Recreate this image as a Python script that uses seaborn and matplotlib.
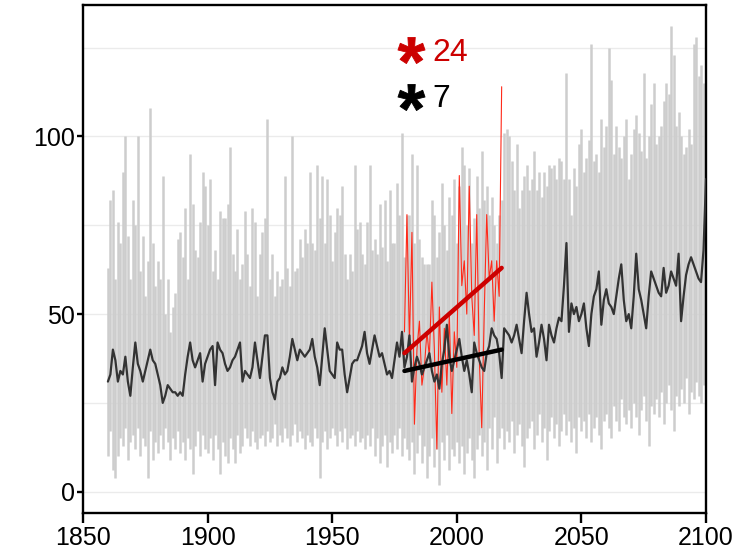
import numpy as np
import pandas as pd
import matplotlib
matplotlib.use("Agg")
import matplotlib.pyplot as plt
import seaborn as sns

# ---------------------------------------------------------------------------
# Data
# ---------------------------------------------------------------------------
YEARS = list(range(1860, 2101))

# ensemble mean, one value per year 1860-2100 (one decade per row)
ENS_MEAN = [
    31, 33, 40, 37, 31, 34, 33, 38, 31, 27,
    35, 42, 36, 34, 31, 34, 37, 40, 37, 36,
    33, 30, 25, 27, 30, 29, 28, 28, 27, 28,
    27, 33, 38, 42, 37, 35, 37, 39, 31, 36,
    38, 40, 41, 30, 42, 40, 39, 36, 34, 35,
    37, 38, 40, 42, 31, 34, 33, 32, 35, 42,
    37, 32, 38, 44, 44, 32, 28, 26, 31, 32,
    35, 33, 34, 38, 43, 40, 37, 40, 39, 38,
    39, 40, 43, 38, 35, 30, 38, 46, 40, 34,
    33, 32, 42, 40, 40, 33, 28, 32, 36, 37,
    37, 39, 41, 45, 39, 36, 40, 44, 41, 38,
    39, 36, 33, 34, 32, 37, 42, 38, 45, 35,
    38, 44, 31, 35, 38, 36, 33, 35, 37, 39,
    34, 31, 33, 29, 36, 40, 47, 38, 34, 37,
    40, 43, 38, 34, 37, 33, 28, 42, 39, 37,
    35, 34, 39, 41, 46, 44, 43, 39, 32, 46,
    45, 44, 42, 44, 47, 43, 39, 48, 56, 50,
    45, 46, 38, 42, 47, 43, 37, 47, 44, 42,
    46, 49, 48, 58, 70, 45, 53, 50, 52, 48,
    50, 53, 46, 41, 50, 55, 57, 62, 47, 54,
    57, 53, 52, 50, 55, 60, 64, 54, 48, 50,
    46, 55, 67, 57, 54, 50, 46, 55, 62, 60,
    58, 56, 55, 63, 56, 58, 62, 60, 58, 67,
    48, 55, 61, 64, 66, 64, 62, 60, 59, 68,
    88,
]

# ensemble maximum per year
ENS_MAX = [
    63, 82, 85, 60, 76, 70, 90, 100, 72, 60,
    82, 75, 100, 62, 72, 55, 65, 108, 70, 58,
    65, 60, 89, 50, 60, 45, 52, 56, 71, 73,
    66, 80, 60, 95, 81, 68, 66, 76, 90, 86,
    75, 88, 62, 68, 60, 79, 77, 77, 81, 97,
    67, 62, 74, 60, 64, 79, 67, 58, 80, 76,
    55, 67, 73, 77, 105, 60, 67, 55, 62, 58,
    60, 89, 63, 58, 100, 62, 63, 71, 66, 74,
    70, 90, 70, 68, 92, 77, 89, 70, 88, 78,
    65, 73, 80, 78, 86, 67, 60, 67, 62, 92,
    74, 76, 67, 64, 76, 92, 68, 71, 67, 81,
    69, 82, 65, 85, 70, 70, 87, 78, 101, 66,
    78, 78, 95, 70, 92, 71, 66, 64, 64, 64,
    82, 78, 66, 73, 87, 75, 68, 83, 78, 88,
    70, 86, 97, 92, 75, 91, 70, 77, 89, 80,
    96, 82, 86, 78, 83, 75, 70, 78, 82, 101,
    102, 100, 93, 85, 98, 80, 85, 89, 92, 85,
    88, 96, 85, 90, 83, 90, 86, 92, 91, 92,
    88, 94, 93, 88, 118, 88, 78, 91, 86, 98,
    102, 90, 94, 99, 126, 93, 95, 90, 105, 97,
    103, 125, 116, 95, 103, 97, 94, 100, 105, 88,
    95, 102, 106, 101, 96, 118, 94, 100, 109, 115,
    98, 100, 103, 110, 115, 112, 131, 123, 103, 107,
    100, 95, 97, 102, 98, 126, 128, 117, 120, 115,
    108,
]

# ensemble minimum per year
ENS_MIN = [
    10, 17, 6, 4, 10, 15, 13, 18, 9, 14,
    16, 12, 18, 10, 15, 13, 4, 17, 9, 14,
    11, 16, 12, 18, 14, 9, 15, 12, 17, 11,
    14, 9, 15, 12, 5, 13, 17, 10, 16, 12,
    11, 15, 9, 16, 12, 5, 14, 10, 8, 15,
    12, 8, 16, 11, 13, 18, 15, 13, 17, 14,
    12, 15, 16, 13, 17, 14, 15, 19, 13, 16,
    14, 18, 15, 13, 16, 19, 14, 17, 15, 12,
    16, 14, 13, 18, 15, 4, 14, 17, 12, 15,
    18, 16, 13, 17, 14, 18, 12, 15, 16, 13,
    17, 14, 15, 12, 16, 13, 18, 10, 15, 8,
    13, 16, 7, 14, 11, 16, 12, 18, 10, 15,
    12, 9, 14, 5, 11, 16, 8, 13, 4, 10,
    15, 7, 12, 2, 14, 9, 16, 6, 12, 10,
    14, 8, 13, 5, 11, 15, 9, 4, 12, 16,
    10, 14, 6, 18, 12, 21, 8, 15, 18, 12,
    17, 14, 20, 11, 16, 19, 13, 7, 15, 18,
    20, 12, 16, 22, 14, 18, 9, 17, 21, 15,
    19, 13, 17, 22, 16, 20, 14, 18, 11, 21,
    17, 20, 15, 22, 14, 18, 21, 16, 12, 20,
    22, 18, 15, 24, 20, 17, 26, 21, 19, 23,
    18, 25, 21, 16, 23, 27, 20, 13, 24, 22,
    26, 21, 28, 19, 25, 30, 23, 17, 27, 24,
    29, 25, 32, 22, 28, 26, 31, 27, 25, 30,
    28,
]

# observations 1979-2018
OBS_YEARS = list(range(1979, 2019))
OBS = [
    45, 78, 42, 73, 19, 40, 48, 30, 35, 45,
    38, 59, 40, 12, 52, 28, 46, 30, 50, 22,
    45, 35, 89, 58, 65, 50, 86, 55, 44, 78,
    38, 18, 50, 78, 60, 65, 48, 65, 55, 114,
]

# linear trends over 1979-2018 (start, end)
TREND_YEARS = [1979, 2018]
OBS_TREND = [39, 63]
MODEL_TREND = [34, 40]

# trend labels
OBS_LABEL = "24"
MODEL_LABEL = "7"

# ---------------------------------------------------------------------------
# Plot
# ---------------------------------------------------------------------------
sns.set_theme(style="white")
plt.rcParams["font.family"] = ["Liberation Sans", "DejaVu Sans"]
plt.rcParams["mathtext.fontset"] = "custom"
plt.rcParams["mathtext.rm"] = "Liberation Sans:bold"
plt.rcParams["mathtext.it"] = "Liberation Sans:bold"
plt.rcParams["mathtext.bf"] = "Liberation Sans:bold"

fig = plt.figure(figsize=(7.49, 5.58), dpi=100)
ax = fig.add_axes([0.1108, 0.0806, 0.8318, 0.9104])

# gray ensemble spread
ax.vlines(YEARS, ENS_MIN, ENS_MAX, color="#cdcdcd", lw=1.8, zorder=1)

mean_df = pd.DataFrame({"year": YEARS, "value": ENS_MEAN})
obs_df = pd.DataFrame({"year": OBS_YEARS, "value": OBS})

sns.lineplot(data=obs_df, x="year", y="value", ax=ax,
             color="#ff2a1a", lw=0.8, zorder=3)
sns.lineplot(data=mean_df, x="year", y="value", ax=ax,
             color="#333333", lw=1.6, zorder=4)
sns.lineplot(x=TREND_YEARS, y=OBS_TREND, ax=ax,
             color="#cc0000", lw=3.2, zorder=5)
sns.lineplot(x=TREND_YEARS, y=MODEL_TREND, ax=ax,
             color="black", lw=3.2, zorder=5)

# trend annotations: big asterisk glyph as marker, number as text
star = r"$\mathbf{*}$"
sns.scatterplot(x=[1981.6], y=[124.3], marker=star, s=380, color="#cc0000",
                edgecolor="#cc0000", linewidth=0.6, ax=ax, zorder=6)
sns.scatterplot(x=[1981.6], y=[111.2], marker=star, s=380, color="black",
                edgecolor="black", linewidth=0.6, ax=ax, zorder=6)
ax.text(1990.0, 123.6, OBS_LABEL, color="#cc0000", fontsize=23,
        ha="left", va="center")
ax.text(1990.0, 110.6, MODEL_LABEL, color="black", fontsize=23,
        ha="left", va="center")

ax.set_xlim(1850, 2100)
ax.set_ylim(-6, 137)
ax.set_xticks([1850, 1900, 1950, 2000, 2050, 2100])
ax.set_yticks([0, 50, 100])
ax.set_yticks([25, 75, 125], minor=True)
ax.grid(True, which="both", axis="y", color="#ebebeb", lw=1)
ax.set_axisbelow(True)
ax.set_xlabel("")
ax.set_ylabel("")

for s in ax.spines.values():
    s.set_color("black")
    s.set_linewidth(1.7)

ax.tick_params(axis="both", which="major", direction="out",
               width=1.7, color="black", labelsize=18, labelcolor="black",
               bottom=True, left=True)
ax.tick_params(axis="x", which="major", length=7, pad=2)
ax.tick_params(axis="y", which="major", length=4, pad=2)
ax.tick_params(axis="y", which="minor", length=0)

fig.savefig("out.png", dpi=100)
